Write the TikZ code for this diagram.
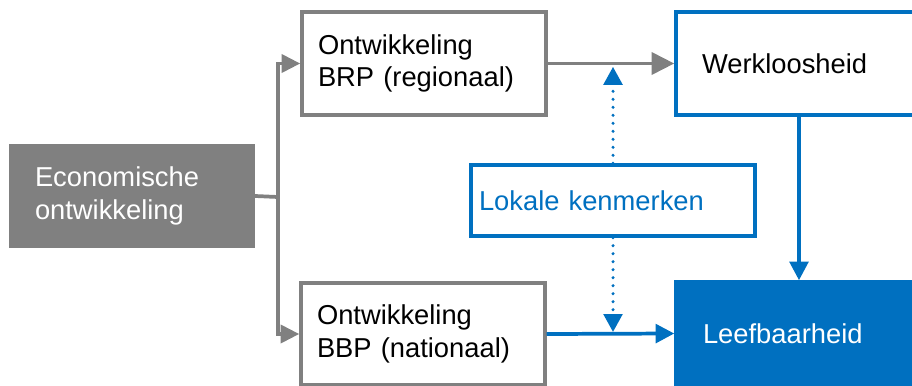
\documentclass[tikz,border=0pt]{standalone}
\usepackage{fontspec}
\setmainfont{Liberation Sans}
\usetikzlibrary{arrows.meta}
\definecolor{tgray}{HTML}{808080}
\definecolor{tblue}{HTML}{0070C0}

\begin{document}
\begin{tikzpicture}[x=0.75pt, y=-0.75pt,
  blk/.style={line width=2.6pt, align=left, inner sep=0pt, font=\fontsize{20.5}{24.5}\selectfont},
  gbox/.style={blk, draw=tgray},
  bbox/.style={blk, draw=tblue},
  wide/.style={minimum width=183pt, minimum height=77.25pt, text width=159pt},
  narrow/.style={minimum width=184.5pt, minimum height=77.25pt, text width=145.5pt},
  garr/.style={draw=tgray, line width=2.8pt, -{Triangle[length=14pt, width=13.5pt]}},
  barr/.style={draw=tblue, line width=2.8pt, -{Triangle[length=14pt, width=14pt]}},
  darr/.style={draw=tblue, line width=2.6pt, line cap=round, dash pattern=on 0pt off 6pt, -{Triangle[length=13.5pt, width=14pt]}}]
  \useasboundingbox (0,0) rectangle (912,385);
  \clip (0,0) rectangle (912,385);
  \node[blk, narrow, fill=tgray, draw=tgray, text=white, minimum height=76pt, minimum width=182pt] (econ) at (132,196) {Economische\\ontwikkeling};
  \node[gbox, wide] (brp) at (424,63.5) {Ontwikkeling\\BRP (regionaal)};
  \node[gbox, wide, minimum height=76.5pt] (bbp) at (423,334) {Ontwikkeling\\BBP (nationaal)};
  \node[bbox, narrow] (werk) at (799,63.5) {Werkloosheid};
  \node[bbox, narrow, fill=tblue, text=white, text width=144pt] (leef) at (799,333.5) {Leefbaarheid};
  \node[bbox, text=tblue, minimum width=213pt, minimum height=53.25pt, text width=201pt] (lok) at (613,200.5) {Lokale kenmerken};
  \coordinate (split) at (278,197);

  \draw[draw=tgray, line width=2.8pt] (econ.east) -- (split);
  \draw[garr] (split) |- (brp.west);
  \draw[garr] (split) |- (bbp.west);
  \draw[garr, -{Triangle[length=17pt, width=16.5pt]}] (brp.east) -- (werk.west);
  \draw[barr] (werk.south) -- (leef.north);
  \draw[barr] (bbp.east) -- (leef.west);
  \draw[darr] (lok.north) -- ([yshift=-2.5pt]lok.north |- brp.east);
  \draw[darr] (lok.south) -- ([yshift=1.5pt]lok.south |- bbp.east);
\end{tikzpicture}
\end{document}
